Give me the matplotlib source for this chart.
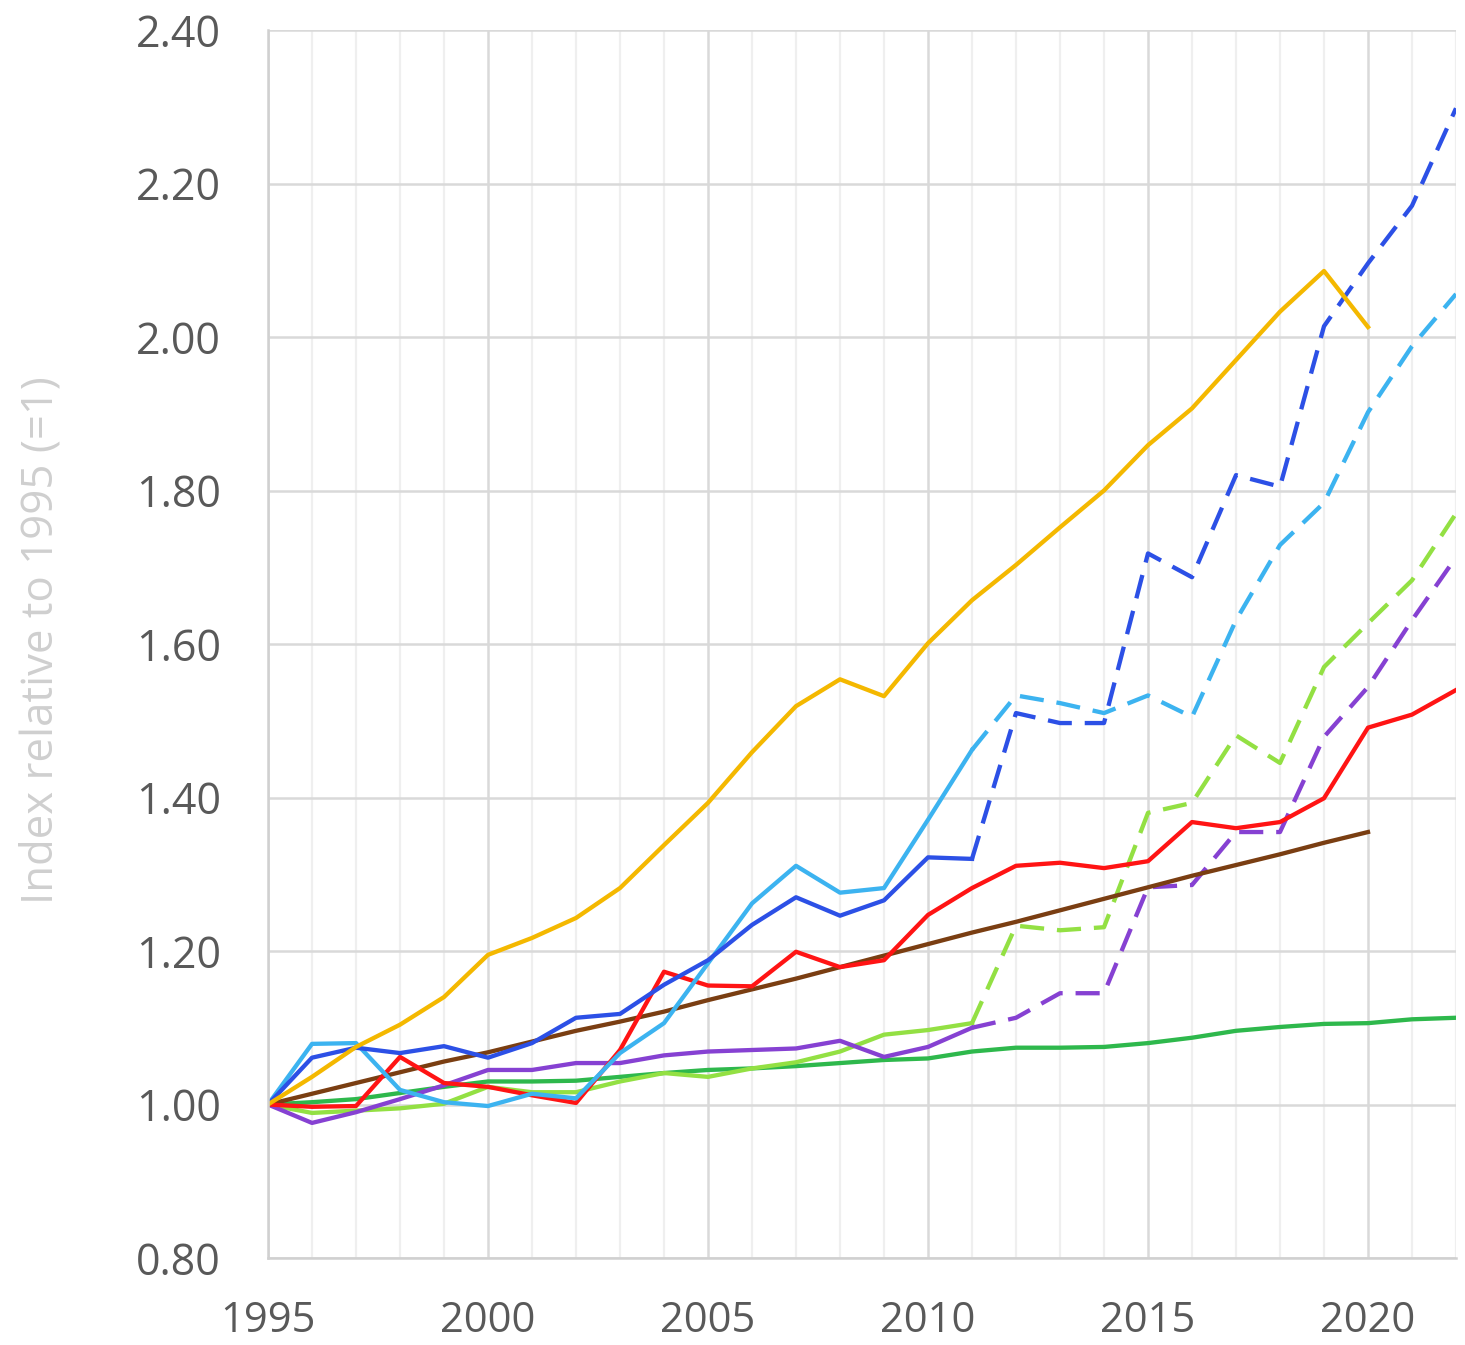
import matplotlib.pyplot as plt
import numpy as np

plt.rcParams['font.family'] = ['Open Sans', 'DejaVu Sans']

years = list(range(1995, 2023))
years_short = list(range(1995, 2021))
split_year = 2011  # solid up to here, dashed after

yellow = [1.00, 1.036, 1.075, 1.104, 1.140, 1.195, 1.217, 1.243, 1.282, 1.338,
          1.393, 1.459, 1.519, 1.554, 1.532, 1.601, 1.657, 1.703, 1.752, 1.800,
          1.859, 1.907, 1.970, 2.033, 2.086, 2.013]
brown = [1.000, 1.014, 1.028, 1.042, 1.056, 1.068, 1.082, 1.096, 1.108, 1.121,
         1.136, 1.150, 1.164, 1.179, 1.194, 1.209, 1.224, 1.238, 1.253, 1.268,
         1.283, 1.298, 1.312, 1.326, 1.341, 1.355]
dark_blue = [1.00, 1.061, 1.074, 1.067, 1.076, 1.061, 1.080, 1.113, 1.118, 1.156,
             1.188, 1.234, 1.270, 1.246, 1.266, 1.322, 1.320, 1.510, 1.497, 1.497,
             1.718, 1.687, 1.820, 1.805, 2.014, 2.096, 2.171, 2.298]
light_blue = [1.00, 1.079, 1.080, 1.019, 1.003, 0.998, 1.014, 1.008, 1.067, 1.106,
              1.184, 1.262, 1.311, 1.276, 1.282, 1.371, 1.462, 1.533, 1.523, 1.510,
              1.533, 1.505, 1.631, 1.729, 1.784, 1.902, 1.988, 2.056]
red = [1.00, 0.997, 0.998, 1.062, 1.028, 1.023, 1.012, 1.002, 1.071, 1.173,
       1.155, 1.154, 1.199, 1.179, 1.188, 1.247, 1.282, 1.311, 1.315, 1.308,
       1.317, 1.368, 1.360, 1.368, 1.399, 1.491, 1.508, 1.540]
green = [1.00, 1.003, 1.007, 1.015, 1.023, 1.030, 1.030, 1.031, 1.036, 1.041,
         1.045, 1.047, 1.050, 1.054, 1.058, 1.060, 1.069, 1.074, 1.074, 1.075,
         1.080, 1.087, 1.096, 1.101, 1.105, 1.106, 1.111, 1.113]
light_green = [1.00, 0.989, 0.992, 0.995, 1.001, 1.023, 1.016, 1.016, 1.030, 1.041,
               1.036, 1.047, 1.055, 1.069, 1.091, 1.097, 1.106, 1.233, 1.227, 1.231,
               1.380, 1.393, 1.481, 1.445, 1.570, 1.627, 1.683, 1.770]
purple = [1.00, 0.976, 0.990, 1.007, 1.025, 1.045, 1.045, 1.054, 1.054, 1.064,
          1.069, 1.071, 1.073, 1.083, 1.062, 1.075, 1.100, 1.113, 1.145, 1.145,
          1.283, 1.286, 1.355, 1.355, 1.479, 1.544, 1.631, 1.713]

lw = 3.1
dash = (5.6, 3.0)

fig = plt.figure(figsize=(14.65, 13.45), dpi=100)
ax = fig.add_axes([268 / 1465, 1 - 1258 / 1345, 1188 / 1465, 1228 / 1345])

def solid_dashed(values, color):
    x = np.array(years)
    y = np.array(values)
    k = years.index(split_year)
    ax.plot(x[:k + 1], y[:k + 1], color=color, lw=lw)
    ax.plot(x[k:], y[k:], color=color, lw=lw, dashes=dash)

ax.plot(years, green, color='#2EB84C', lw=lw)
solid_dashed(light_green, '#93E043')
solid_dashed(purple, '#8641D2')
ax.plot(years_short, brown, color='#7A3E12', lw=lw)
ax.plot(years, red, color='#FF1414', lw=lw)
solid_dashed(light_blue, '#3CB3F0')
solid_dashed(dark_blue, '#2C50E6')
ax.plot(years_short, yellow, color='#F4B800', lw=lw)

ax.set_xlim(1995, 2022)
ax.set_ylim(0.8, 2.4)
ax.set_xticks(range(1995, 2021, 5))
ax.set_xticks(range(1995, 2023), minor=True)
ax.set_yticks(np.arange(0.8, 2.41, 0.2))
ax.set_yticklabels([f'{v:.2f}' for v in np.arange(0.8, 2.41, 0.2)])

ax.grid(which='major', color='#D9D9D9', lw=1.8)
ax.grid(which='minor', axis='x', color='#EFEFEF', lw=1.6)
ax.set_axisbelow(True)
for s in ['top', 'right']:
    ax.spines[s].set_visible(False)
for s in ['left', 'bottom']:
    ax.spines[s].set_color('#D0D0D0')
    ax.spines[s].set_linewidth(1.8)

ax.tick_params(which='both', length=0, labelsize=31, colors='#595959')
ax.tick_params(axis='y', pad=34)
ax.tick_params(axis='x', labelsize=30, pad=30)

fig.text(41 / 1465, 1 - 640 / 1345, 'Index relative to 1995 (=1)', rotation=90,
         ha='center', va='center', fontsize=31.5, color='#CFCFCF')

fig.savefig('out.png', dpi=100)
